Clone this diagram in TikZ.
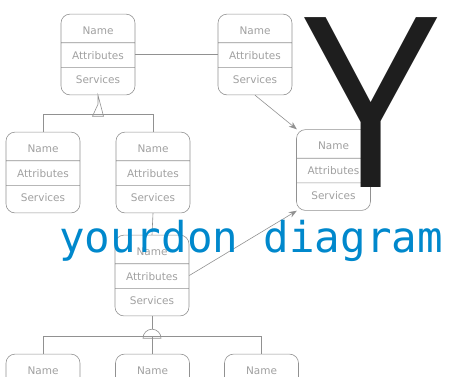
\documentclass[tikz,border=0pt]{standalone}
\usepackage{fontspec}
\setmainfont{DejaVu Sans}
\newfontfamily\yfont{Open Sans}
\newfontfamily\titlefont{DejaVu Sans Mono}
\usetikzlibrary{shapes.multipart,arrows.meta}
\definecolor{boxline}{RGB}{145,145,145}
\definecolor{boxtext}{RGB}{160,160,160}
\definecolor{titleblue}{RGB}{0,136,204}
\definecolor{bigY}{RGB}{30,30,30}
\newcommand{\namestrut}{\rule[-8pt]{0pt}{28pt}}
\newcommand{\attrstrut}{\rule[-8pt]{0pt}{24pt}}
\newcommand{\servstrut}{\rule[-11pt]{0pt}{27pt}}
\tikzset{
  classbox/.style={rectangle split, rectangle split parts=3, draw=boxline, line width=0.6pt,
    rounded corners=9pt, text width=74pt, inner xsep=0pt, inner ysep=0pt, align=center,
    font=\fontsize{10.5}{10.5}\selectfont, text=boxtext},
  link/.style={draw=boxline, line width=0.6pt},
  arrowlink/.style={link, -{Stealth[length=8pt,width=6pt]}}
}
\begin{document}
\begin{tikzpicture}[x=1pt,y=-1pt]
\useasboundingbox (0,0) rectangle (449,376);
\clip (0,0) rectangle (449,376);
% class boxes
\foreach \nm/\px/\py in {clsA/98/54.5, clsB/255/54.5, clsC/43/172.5, clsD/153/172.5,
    clsE/333.5/170, clsF/152/275.5, clsG/43/394.5, clsH/152.5/394.5, clsI/261.5/394.5}
  \node[classbox] (\nm) at (\px,\py) {\namestrut Name\nodepart{two}\attrstrut Attributes\nodepart{three}\servstrut Services};
% connectors
\draw[link] (clsA.east) -- (clsB.west);
\draw[arrowlink] (clsB.south) -- (clsE.132);
\draw[arrowlink] (clsF.east) -- (clsE.228);
\draw[link] (clsD.south) -- (clsF.north);
% generalisation
\draw[link] (clsA.south) -- ++(0,9) coordinate (genTop) -- ++(-5.5,12) -- ++(11,0) -- cycle;
\draw[link] (clsC.north) -- ++(0,-18) -| (clsD.north);
% aggregation
\draw[link] (clsF.south) -- ++(0,13) coordinate (aggTop);
\draw[link] ([xshift=-9pt,yshift=-9pt]aggTop) arc[start angle=180, end angle=0, radius=9pt] -- cycle;
\draw[link] (clsG.north) -- ++(0,-18) -| (clsI.north);
\draw[link] (clsH.north) -- ++(0,-18);
% overlay texts
\node[font=\yfont\fontsize{238}{238}\selectfont, text=bigY, inner sep=0pt, anchor=base] (bigLetter) at (371,187) {Y};
\node[font=\titlefont\fontsize{42.5}{42.5}\selectfont, text=titleblue, inner sep=0pt, anchor=base] (title) at (251,252) {yourdon diagram};
\end{tikzpicture}
\end{document}
